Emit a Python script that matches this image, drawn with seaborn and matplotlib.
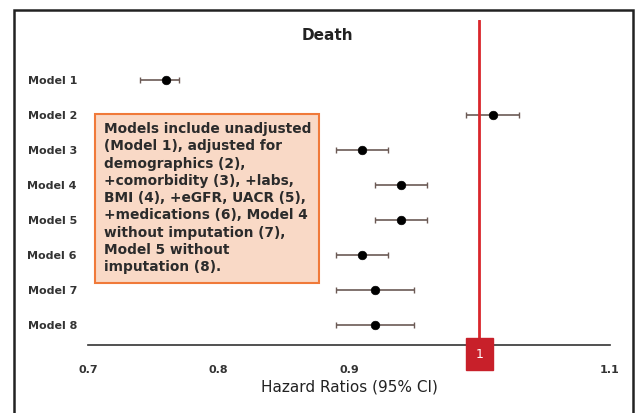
import numpy as np
import pandas as pd
import seaborn as sns
import matplotlib.pyplot as plt
from matplotlib.patches import Rectangle

models = ['Model 1', 'Model 2', 'Model 3', 'Model 4', 'Model 5', 'Model 6', 'Model 7', 'Model 8']
hr = [0.76, 1.01, 0.91, 0.94, 0.94, 0.91, 0.92, 0.92]
ci_low = [0.74, 0.99, 0.89, 0.92, 0.92, 0.89, 0.89, 0.89]
ci_high = [0.77, 1.03, 0.93, 0.96, 0.96, 0.93, 0.95, 0.95]
xticks = [0.7, 0.8, 0.9, 1.1]
xtick_labels = ['0.7', '0.8', '0.9', '1.1']

note = ("Models include unadjusted\n(Model 1), adjusted for\ndemographics (2),\n"
        "+comorbidity (3), +labs,\nBMI (4), +eGFR, UACR (5),\n+medications (6), Model 4\n"
        "without imputation (7),\nModel 5 without\nimputation (8).")

df = pd.DataFrame({'model': models, 'hr': hr, 'lo': ci_low, 'hi': ci_high})
df['pos'] = np.arange(1, len(models) + 1)

sns.set_style('white')
fig = plt.figure(figsize=(6.37, 4.13), dpi=100)
ax = fig.add_axes([88 / 637, 1 - 345 / 413, (610 - 88) / 637, (345 - 20) / 413])

# confidence intervals
ax.errorbar(df['hr'], df['pos'], xerr=[df['hr'] - df['lo'], df['hi'] - df['hr']],
            fmt='none', ecolor='#6b5a55', elinewidth=1.2, capsize=2.5, capthick=1)
sns.scatterplot(data=df, x='hr', y='pos', color='black', s=38, edgecolor='black', zorder=3, ax=ax)

# reference line at 1
ax.axvline(1.0, color='#d9262b', lw=2, zorder=2)

ax.set_xlim(0.7, 1.1)
ax.set_ylim(8.57, 0.0 - 0.71)
ax.set_yticks(df['pos'])
ax.set_yticklabels(models, fontsize=8, fontweight='bold', color='#333333')
ax.tick_params(axis='y', length=0, pad=8)
ax.set_xticks(xticks)
ax.set_xticklabels(xtick_labels, fontsize=8, fontweight='bold', color='#333333')
ax.tick_params(axis='x', direction='inout', length=5, width=1, color='#333333', pad=12)
for s in ['left', 'right', 'top']:
    ax.spines[s].set_visible(False)
ax.spines['bottom'].set_color('#333333')
ax.spines['bottom'].set_linewidth(1.2)
ax.set_xlabel('Hazard Ratios (95% CI)', fontsize=11, color='#222222', labelpad=3)
ax.set_ylabel('')

# red "1" marker on the axis
ax.text(1.0, -0.008, '1', transform=ax.get_xaxis_transform(), ha='center', va='top',
        fontsize=9, color='white',
        bbox=dict(boxstyle='square,pad=0.75', fc='#c8202a', ec='#c8202a'))

fig.text(327 / 637, 1 - 35 / 413, 'Death', ha='center', va='center', fontsize=11,
         fontweight='semibold', color='#222222')

# annotation box
ax.text(0.7045 + 0.0075, 2.2, note, fontsize=9.9, fontweight='bold', color='#2b2b2b',
        va='top', ha='left', linespacing=1.3, zorder=4,
        bbox=dict(boxstyle='square,pad=0.6', fc='#f9d9c6', ec='#f07a3a', lw=1.5))

# outer frame
fig.patches.append(Rectangle((14 / 637, -0.05), (633 - 14) / 637, 1.05 - 10 / 413,
                             transform=fig.transFigure, fill=False, ec='#222222', lw=1.8))

fig.savefig('out.png', dpi=100)
